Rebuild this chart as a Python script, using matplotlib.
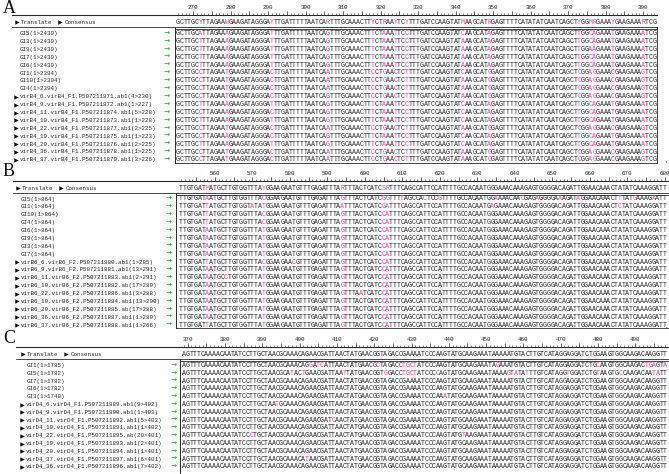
import matplotlib
matplotlib.use('Agg')
import matplotlib.pyplot as plt
from matplotlib.ticker import MultipleLocator, FuncFormatter

# ---------------- data ----------------
panel_letters = ['A', 'B', 'C']

A_labels = ['GI5(1>2430)', 'GI3(1>2430)', 'GI9(1>2430)', 'GI7(1>2430)', 'GI6(1>2430)',
            'GI1(1>2394)', 'GI10(1>2394)', 'GI4(1>2394)',
            'virB4_6.virB4_F1.P507211871.ab1(4>230)',
            'virB4_9.virB4_F1.P507211872.ab1(1>227)',
            'virB4_11.virB4_F1.P507211874.ab1(5>228)',
            'virB4_10.virB4_F1.P507211873.ab1(1>228)',
            'virB4_22.virB4_F1.P507211877.ab1(2>225)',
            'virB4_19.virB4_F1.P507211875.ab1(1>223)',
            'virB4_20.virB4_F1.P507211876.ab1(2>225)',
            'virB4_36.virB4_F1.P507211878.ab1(1>225)',
            'virB4_37.virB4_F1.P507211879.ab1(3>226)']
A_start = 266
A_consensus = ("GCTTGCYTTAGAAWGAAGATAGGGAYTTGATTTTTAATCARTTTGCAAACTTYCTRAAYTCY"
               "TTTGATCCAAGTATMAAGCATRGAGTTTTCATATATCAATCAGCTYGGMRGAAAYGAAGAAARTCG")
A_resolved = ["AATGTATCCATCATA", "TATGTATCAATCATA", "TATGTATCAATAATA", "TATGTATCAATCATA",
              "TATGTATCAATCATA", "CTCACGCTCGCAGCG", "CTCACGCTAGCAGCG", "CTCACGCTAGCAGCG",
              "CTCGCGCTAGCAGCG", "TATGTATCCATCATA", "CACGTATCCATCATA", "TATGTATCCATCATA",
              "CTCACGCTAGCAGCG", "CACGTATCCATCATA", "TATGTATCCATCATA", "CTCACGCTAGCAGCG",
              "CTCACGCTAGCAGCG"]
A_extra = [{}, {}, {}, {}, {}, {}, {}, {}, {}, {}, {}, {}, {}, {}, {}, {}, {}]

B_labels = ['GI5(1>864)', 'GI1(1>864)', 'GI10(1>864)', 'GI4(1>864)', 'GI6(1>864)',
            'GI9(1>864)', 'GI3(1>864)', 'GI7(1>864)',
            'virB6_6.virB6_F2.P507211880.ab1(1>285)',
            'virB6_9.virB6_F2.P507211881.ab1(13>291)',
            'virB6_11.virB6_F2.P507211883.ab1(2>291)',
            'virB6_10.virB6_F2.P507211882.ab(17>289)',
            'virB6_22.virB6_F2.P507211886.ab1(3>288)',
            'virB6_19.virB6_F2.P507211884.ab1(13>290)',
            'virB6_20.virB6_F2.P507211885.ab(17>288)',
            'virB6_36.virB6_F2.P507211887.ab1(1>289)',
            'virB6_37.virB6_F2.P507211888.ab1(1>266)']
B_start = 551
B_consensus = ("TTGTGATMATGCTTGTGGTTTAYGGAAGAATGTTTGAGATTTARTTTACTCATCSRTTTCAGCCATTCCATT"
               "TTGCCACAATGGGAAACAAAGAGTGGGGACAGATTGGAACAAACTATATCAAAGGATT")
B_resolved = ["ACGGG", "TTAGA", "TCGCA", "TCGCA", "ATGCA", "ATGCA", "ATGCA", "ATGCA",
              "TCGCA", "ATGCA", "ATGCA", "ATGCA", "ATGCA", "ATGCA", "ATGCA", "ATGCA", "TTGCA"]
B_extra = [{59: 'T', 65: 'C', 69: 'G', 84: 'A', 91: 'C', 95: 'A', 101: 'A', 106: 'A',
            117: 'T', 121: 'G', 126: 'A'},
           {19: 'A', 83: 'A', 117: 'C'},
           {}, {}, {}, {}, {}, {},
           {30: 'C'}, {}, {12: 'C'}, {}, {48: 'A'}, {}, {}, {}, {}]

C_labels = ['GI1(1>1785)', 'GI5(1>1782)', 'GI7(1>1782)', 'GI6(1>1782)', 'GI3(1>1740)',
            'virD4_6.virD4_F1.P507211889.ab1(9>402)',
            'virD4_9.virD4_F1.P507211890.ab1(1>403)',
            'virD4_11.virD4_F1.P507211892.ab1(5>403)',
            'virD4_10.virD4_F1.P507211891.ab1(1>402)',
            'virD4_22.virD4_F1.P507211895.ab(20>401)',
            'virD4_19.virD4_F1.P507211893.ab1(2>401)',
            'virD4_20.virD4_F1.P507211894.ab1(1>401)',
            'virD4_37.virD4_F1.P507211897.ab1(6>401)',
            'virD4_36.virD4_F1.P507211896.ab1(7>402)']
C_start = 369
C_consensus = ("AGTTTCAAAACAATATCCTTGCTAACGCAAACAGAACGATTAACTATGAACGGTAGACCGAAAATCCCAA"
               "GTATGCAAGAAATAAAAATGTACTTGTCATAGGAGGATCTGGAAGTGGCAAGACAAGGTT")
C_resolved = [""] * 14
C_extra = [{34: 'G', 36: 'T', 37: 'C', 52: 'C', 59: 'T', 60: 'G', 61: 'C', 62: 'T',
            84: 'G', 111: 'C', 124: 'T', 125: 'G', 126: 'A', 129: 'A'},
           {29: 'T', 32: 'T', 43: 'T', 54: 'G', 59: 'T', 60: 'G', 61: 'C', 62: 'T', 68: 'C',
            87: 'G', 89: 'A', 92: 'T', 103: 'T', 111: 'T', 117: 'C', 126: 'T', 127: 'A'},
           {}, {}, {70: 'A'},
           {25: 'T'}, {}, {40: 'C'}, {}, {18: 'C', 75: 'T'}, {}, {}, {33: 'T'}, {}]

# ---------------- style / layout ----------------
W, H = 669, 474
MONO = ['Liberation Mono', 'DejaVu Sans Mono']
FS_LAB = 4.2
FS_SEQ = 4.8
INK = '#2a2a2a'
PINK = '#e0409a'
GREEN = '#2f9e2f'
AMBIG = set('RYKMSWBDHVN')

layouts = [
    dict(letter_y=8.5, ruler_y=15, header_y=22, sep_y=27, r0=33.5, rs=7.9, box_bottom=163,
         line_x0=12, box_x=175, box_right=657, x0=178, cw=3.75, gi_x=20, vir_x=20,
         tri_x=15, arrow_x=164, right_line=True, end_mark=','),
    dict(letter_y=171, ruler_y=181, header_y=188, sep_y=193, r0=199, rs=7.88, box_bottom=328,
         line_x0=13, box_x=176, box_right=W, x0=181, cw=3.75, gi_x=21, vir_x=21,
         tri_x=16, arrow_x=166, right_line=False, end_mark='.'),
    dict(letter_y=338.5, ruler_y=347, header_y=354, sep_y=359, r0=365.5, rs=7.8, box_bottom=480,
         line_x0=16, box_x=180, box_right=W, x0=184, cw=3.73, gi_x=27, vir_x=26,
         tri_x=21, arrow_x=171, right_line=False, end_mark=''),
]

fig = plt.figure(figsize=(W / 100, H / 100), dpi=100)
bg = fig.add_axes([0, 0, 1, 1])
bg.set_xlim(0, W)
bg.set_ylim(H, 0)
bg.axis('off')


def tri(x, y):
    bg.plot([x + 1.5], [y], marker='>', ms=3.2, color='#111111', mec='none')


def draw_panel(letter, labels, consensus, start, resolved, extras, L):
    bg.text(3, L['letter_y'], letter, fontfamily='Liberation Serif', fontsize=13,
            ha='left', va='center', color='#111111')
    bg.plot([L['line_x0'], L['box_right']], [L['ruler_y']] * 2, color=INK, lw=0.8)
    bg.plot([L['line_x0'], L['box_right']], [L['sep_y']] * 2, color=INK, lw=0.6)
    bg.plot([L['box_x'], L['box_right']], [L['sep_y'] + 2] * 2, color=INK, lw=0.6)
    bg.plot([L['box_x']] * 2, [L['sep_y'], L['box_bottom']], color=INK, lw=0.7)
    bg.plot([L['box_x'], L['box_right']], [L['box_bottom']] * 2, color=INK, lw=0.6)
    if L['right_line']:
        bg.plot([L['box_right']] * 2, [L['sep_y'], L['box_bottom']], color=INK, lw=0.6)
    # header
    tri(L['tri_x'], L['header_y'])
    bg.text(L['tri_x'] + 6, L['header_y'], 'Translate', fontfamily=MONO, fontsize=FS_LAB,
            ha='left', va='center', color=INK)
    tri(L['tri_x'] + 43, L['header_y'])
    bg.text(L['tri_x'] + 50, L['header_y'], 'Consensus', fontfamily=MONO, fontsize=FS_LAB,
            ha='left', va='center', color=INK)

    # sequence axes
    n = len(consensus)
    left_px = L['x0'] - L['cw'] / 2
    width_px = n * L['cw']
    top_px, bottom_px = L['ruler_y'], L['box_bottom']
    ax = fig.add_axes([left_px / W, 1 - bottom_px / H, width_px / W, (bottom_px - top_px) / H])
    ax.set_xlim(start - 0.5, start + n - 0.5)
    ax.set_ylim((bottom_px - L['r0']) / L['rs'], (top_px - L['r0']) / L['rs'])
    ax.patch.set_alpha(0)
    for sp in ax.spines.values():
        sp.set_visible(False)
    ax.yaxis.set_visible(False)
    ax.xaxis.tick_top()
    ax.xaxis.set_major_locator(MultipleLocator(5))
    ax.xaxis.set_minor_locator(MultipleLocator(1))
    ax.xaxis.set_major_formatter(FuncFormatter(
        lambda v, p: f'{int(round(v))}' if int(round(v)) % 10 == 0 else ''))
    ax.tick_params(axis='x', which='major', length=3, width=0.5, color=INK, pad=0.8,
                   labelsize=FS_LAB, labelcolor=INK, labelfontfamily='Liberation Mono')
    ax.tick_params(axis='x', which='minor', length=1.4, width=0.4, color=INK)

    yh = (L['header_y'] - L['r0']) / L['rs']
    for j, ch in enumerate(consensus):
        ax.text(start + j, yh, ch, color=PINK if ch in AMBIG else INK, fontfamily=MONO,
                fontsize=FS_SEQ, ha='center', va='center')

    amb_idx = [j for j, ch in enumerate(consensus) if ch in AMBIG]
    for i, lab in enumerate(labels):
        row = list(consensus)
        for j, b in zip(amb_idx, resolved[i]):
            row[j] = b
        for j, b in extras[i].items():
            row[j] = b
        for j, ch in enumerate(row):
            pink = consensus[j] in AMBIG or ch != consensus[j]
            ax.text(start + j, i, ch, color=PINK if pink else INK, fontfamily=MONO,
                    fontsize=FS_SEQ, ha='center', va='center')
        y = L['r0'] + i * L['rs']
        is_read = lab.startswith('vir')
        if is_read:
            tri(L['tri_x'] - 1, y)
        bg.text(L['vir_x'] if is_read else L['gi_x'], y, lab, fontfamily=MONO,
                fontsize=FS_LAB, ha='left', va='center', color=INK)
        bg.text(L['arrow_x'], y, '\u2192', fontfamily='DejaVu Sans', fontsize=5.2,
                ha='left', va='center', color=GREEN)
    if L['end_mark']:
        bg.text(W - 3, L['r0'] + (len(labels) - 1) * L['rs'] + 1, L['end_mark'],
                fontfamily=MONO, fontsize=FS_LAB, ha='center', va='center', color=INK)


panels = [
    (A_labels, A_consensus, A_start, A_resolved, A_extra),
    (B_labels, B_consensus, B_start, B_resolved, B_extra),
    (C_labels, C_consensus, C_start, C_resolved, C_extra),
]
for letter, (labs, cons, st, res, ext), L in zip(panel_letters, panels, layouts):
    draw_panel(letter, labs, cons, st, res, ext, L)

fig.savefig('out.png', dpi=100, facecolor='white')
